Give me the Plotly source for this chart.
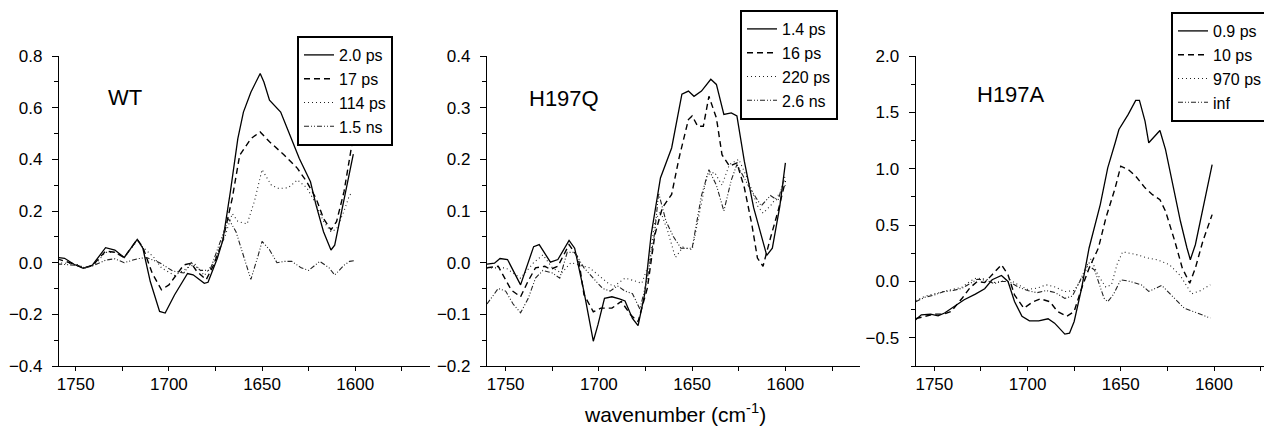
import plotly.graph_objects as go

# ---- WT ----
wt_x_20ps = [1760, 1756, 1751, 1746, 1741, 1734, 1729, 1724, 1717, 1714, 1710, 1705, 1702, 1697, 1690, 1687, 1681, 1679, 1674, 1671, 1667, 1663, 1660, 1656, 1651, 1649, 1646, 1640, 1635, 1630, 1624, 1621, 1617, 1613, 1611, 1607, 1604, 1601]
wt_y_20ps = [0.02, 0.017, -0.006, -0.022, -0.009, 0.058, 0.049, 0.02, 0.09, 0.056, -0.073, -0.189, -0.195, -0.125, -0.042, -0.047, -0.08, -0.076, 0.017, 0.088, 0.275, 0.48, 0.583, 0.66, 0.732, 0.699, 0.629, 0.583, 0.493, 0.403, 0.313, 0.223, 0.12, 0.049, 0.068, 0.21, 0.313, 0.42]
wt_x_17ps = [1760, 1751, 1746, 1741, 1734, 1729, 1724, 1717, 1714, 1709, 1704, 1700, 1692, 1688, 1685, 1680, 1676, 1671, 1666, 1662, 1656, 1651, 1646, 1638, 1631, 1626, 1621, 1617, 1613, 1610, 1606, 1601]
wt_y_17ps = [0.015, -0.005, -0.02, -0.012, 0.045, 0.04, 0.02, 0.09, 0.06, -0.04, -0.105, -0.086, -0.009, -0.002, -0.034, -0.066, -0.009, 0.088, 0.249, 0.416, 0.48, 0.506, 0.468, 0.416, 0.365, 0.313, 0.249, 0.171, 0.127, 0.159, 0.275, 0.49]
wt_x_114ps = [1760, 1750, 1745, 1740, 1734, 1729, 1724, 1717, 1714, 1708, 1704, 1697, 1690, 1686, 1681, 1676, 1670, 1666, 1663, 1658, 1654, 1650, 1645, 1641, 1636, 1631, 1626, 1622, 1617, 1613, 1610, 1606, 1603, 1601]
wt_y_114ps = [0.0, -0.005, -0.02, -0.01, 0.04, 0.04, 0.02, 0.085, 0.06, 0.02, -0.02, -0.05, -0.02, -0.005, -0.05, 0.0, 0.1, 0.19, 0.16, 0.15, 0.24, 0.36, 0.3, 0.287, 0.29, 0.32, 0.29, 0.24, 0.16, 0.12, 0.13, 0.2, 0.262, 0.27]
wt_x_15ns = [1760, 1750, 1745, 1740, 1734, 1729, 1724, 1717, 1712, 1705, 1698, 1692, 1688, 1683, 1678, 1673, 1668, 1664, 1660, 1656, 1652, 1650, 1646, 1642, 1638, 1634, 1629, 1625, 1619, 1614, 1611, 1606, 1603, 1600]
wt_y_15ns = [-0.005, -0.01, -0.02, -0.01, 0.01, 0.015, 0.0, 0.015, 0.02, 0.0, -0.032, -0.04, 0.0, -0.03, -0.03, 0.07, 0.17, 0.12, 0.03, -0.065, 0.03, 0.082, 0.05, 0.0, 0.005, 0.005, -0.02, -0.03, 0.005, -0.02, -0.048, -0.01, 0.005, 0.008]

# ---- H197Q ----
q_x_14ps = [1760, 1756, 1753, 1749, 1742, 1735, 1732, 1726, 1722, 1716, 1713, 1708, 1703, 1700.5, 1697, 1693, 1689, 1686, 1682, 1679, 1675.5, 1672, 1667, 1661, 1655.5, 1652, 1649, 1645, 1640, 1637, 1633, 1629, 1626, 1622, 1617, 1610, 1607, 1603, 1600]
q_y_14ps = [-0.003, -0.001, 0.008, 0.006, -0.043, 0.031, 0.035, 0.001, 0.006, 0.043, 0.028, -0.056, -0.152, -0.12, -0.069, -0.066, -0.07, -0.074, -0.108, -0.122, -0.062, 0.054, 0.164, 0.222, 0.326, 0.332, 0.322, 0.332, 0.355, 0.345, 0.287, 0.29, 0.284, 0.196, 0.106, 0.014, 0.028, 0.109, 0.193]
q_x_16ps = [1760, 1754, 1747, 1742, 1738, 1734, 1729, 1726, 1722, 1716, 1711, 1708, 1703, 1699, 1693, 1688, 1683, 1679, 1674, 1670, 1666, 1661, 1657, 1652, 1650, 1647, 1644, 1641, 1637, 1634, 1630, 1626, 1622, 1618, 1615, 1612, 1608, 1604, 1600]
q_y_16ps = [-0.01, -0.007, -0.053, -0.066, -0.036, -0.01, -0.007, -0.013, -0.007, 0.035, 0.009, -0.062, -0.095, -0.088, -0.088, -0.075, -0.101, -0.114, -0.049, 0.054, 0.106, 0.132, 0.203, 0.277, 0.284, 0.264, 0.264, 0.322, 0.28, 0.209, 0.187, 0.193, 0.145, 0.074, 0.009, -0.007, 0.048, 0.099, 0.158]
q_x_220ps = [1760, 1750, 1742, 1735, 1730, 1725, 1720, 1715, 1710, 1705, 1700, 1695, 1692, 1686, 1681, 1677, 1673, 1670, 1667, 1663, 1659, 1655, 1650, 1646, 1642, 1638, 1634, 1630, 1625, 1620, 1615, 1612, 1608, 1604, 1600]
q_y_220ps = [-0.01, -0.01, -0.03, 0.0, 0.015, -0.01, -0.02, 0.0, -0.005, -0.01, -0.025, -0.04, -0.046, -0.03, -0.035, -0.04, 0.0, 0.08, 0.1, 0.06, 0.01, 0.03, 0.025, 0.1, 0.17, 0.175, 0.15, 0.19, 0.2, 0.16, 0.11, 0.096, 0.11, 0.13, 0.15]
q_x_26ns = [1760, 1754, 1750, 1746, 1742, 1738, 1734, 1730, 1725, 1721, 1717, 1713, 1708, 1703, 1698, 1694, 1690, 1686, 1682, 1678, 1674, 1670, 1668, 1664, 1660, 1656, 1650, 1645, 1641, 1637, 1633, 1629, 1626, 1620, 1613, 1608, 1604, 1600]
q_y_26ns = [-0.08, -0.05, -0.055, -0.08, -0.097, -0.07, -0.03, -0.015, -0.02, -0.03, 0.02, 0.02, -0.01, -0.03, -0.05, -0.055, -0.045, -0.055, -0.06, -0.09, -0.03, 0.06, 0.135, 0.08, 0.05, 0.028, 0.028, 0.13, 0.18, 0.15, 0.1, 0.16, 0.19, 0.15, 0.11, 0.13, 0.12, 0.17]

# ---- H197A ----
a_x_09ps = [1760, 1757, 1752, 1748, 1744.5, 1739, 1734, 1728, 1723, 1719, 1714, 1710.5, 1707, 1703, 1699, 1694, 1689, 1685.5, 1680, 1677.5, 1675, 1671, 1667, 1661, 1657, 1653, 1651, 1646, 1642, 1640, 1637, 1635, 1629, 1626, 1622, 1618, 1614.5, 1612.7, 1610, 1605, 1601]
a_y_09ps = [-0.34, -0.296, -0.29, -0.305, -0.28, -0.222, -0.162, -0.112, -0.065, 0.015, 0.053, 0.0, -0.178, -0.31, -0.35, -0.35, -0.331, -0.37, -0.467, -0.459, -0.355, -0.059, 0.297, 0.682, 1.008, 1.23, 1.348, 1.482, 1.606, 1.606, 1.422, 1.23, 1.339, 1.17, 0.86, 0.534, 0.297, 0.193, 0.326, 0.711, 1.037]
a_x_10ps = [1760, 1750, 1745, 1741, 1735, 1731, 1727, 1723, 1719, 1714, 1710.5, 1707, 1702, 1697, 1693, 1688, 1684, 1679, 1675, 1671, 1667, 1662, 1658, 1653, 1650, 1646, 1642, 1637, 1633, 1629, 1626, 1621, 1617, 1613, 1610, 1606, 1601]
a_y_10ps = [-0.33, -0.29, -0.29, -0.266, -0.147, -0.058, 0.0, -0.01, 0.06, 0.148, 0.06, -0.12, -0.237, -0.18, -0.154, -0.18, -0.266, -0.31, -0.266, -0.06, 0.118, 0.297, 0.563, 0.83, 1.023, 0.993, 0.934, 0.83, 0.77, 0.726, 0.623, 0.356, 0.118, -0.015, 0.118, 0.356, 0.593]
a_x_970ps = [1760, 1755, 1750, 1745, 1740, 1735, 1731, 1727.5, 1722, 1718, 1714, 1710, 1705, 1700, 1695, 1690, 1685, 1680, 1675, 1670, 1666, 1662, 1658, 1655, 1652, 1649, 1642, 1636, 1630, 1624, 1618, 1612, 1607, 1602]
a_y_970ps = [-0.17, -0.13, -0.11, -0.09, -0.07, -0.05, 0.0, 0.03, 0.02, -0.01, 0.0, 0.02, -0.03, -0.07, -0.06, -0.03, -0.05, -0.09, -0.08, 0.05, 0.2, 0.05, -0.05, -0.03, 0.15, 0.263, 0.24, 0.21, 0.19, 0.15, 0.05, -0.11, -0.08, -0.03]
a_x_inf = [1760, 1755, 1750, 1745, 1740, 1735, 1730, 1727, 1722, 1718, 1714, 1710, 1705, 1700, 1695, 1690, 1685, 1680, 1676, 1672, 1668, 1664, 1661, 1659, 1657, 1654, 1650, 1645, 1639, 1635, 1628, 1621, 1616, 1609, 1602]
a_y_inf = [-0.18, -0.14, -0.12, -0.09, -0.08, -0.06, -0.01, 0.02, 0.01, -0.02, 0.0, 0.0, -0.05, -0.08, -0.1, -0.08, -0.1, -0.15, -0.13, 0.0, 0.15, 0.1, -0.05, -0.148, -0.18, -0.117, 0.015, 0.0, -0.03, -0.088, -0.035, -0.148, -0.237, -0.28, -0.325]

names_wt = ["2.0 ps", "17 ps", "114 ps", "1.5 ns"]
names_q = ["1.4 ps", "16 ps", "220 ps", "2.6 ns"]
names_a = ["0.9 ps", "10 ps", "970 ps", "inf"]
panel_labels = ["WT", "H197Q", "H197A"]

W, H = 1272, 426
FONT = "Liberation Sans, Arial, sans-serif"

styles = [
    dict(color="black", width=1.3, dash="solid"),
    dict(color="black", width=1.4, dash="6px,4px"),
    dict(color="#222", width=1.1, dash="1px,3px"),
    dict(color="#222", width=1.1, dash="5px,2px,1px,2px,1px,2px"),
]

panels = [
    ([(wt_x_20ps, wt_y_20ps), (wt_x_17ps, wt_y_17ps), (wt_x_114ps, wt_y_114ps), (wt_x_15ns, wt_y_15ns)], names_wt),
    ([(q_x_14ps, q_y_14ps), (q_x_16ps, q_y_16ps), (q_x_220ps, q_y_220ps), (q_x_26ns, q_y_26ns)], names_q),
    ([(a_x_09ps, a_y_09ps), (a_x_10ps, a_y_10ps), (a_x_970ps, a_y_970ps), (a_x_inf, a_y_inf)], names_a),
]

fig = go.Figure()
for p, (series, names) in enumerate(panels):
    sfx = "" if p == 0 else str(p + 1)
    for (xs, ys), name, st in zip(series, names, styles):
        fig.add_trace(go.Scatter(x=xs, y=ys, mode="lines", name=name, line=st,
                                 xaxis="x" + sfx, yaxis="y" + sfx,
                                 legend="legend" + sfx))

# pixel geometry of the three panels
x_dom = [(51, 421.7), (479, 852), (907.7, 1272)]
x_rng = [(1759, 1560), (1760, 1560), (1760, 1564.6)]
y_rng = [(-0.4, 0.8), (-0.2, 0.4), (-0.75, 2.0)]
y_dt = [(0.2, 0.1), (0.1, 0.05), (0.5, 0.25)]
top, bottom = 48, 358

axis_common = dict(showline=True, linecolor="black", linewidth=1.3, showgrid=False,
                   zeroline=False, ticks="outside", tickwidth=1.2,
                   tickcolor="black", tickfont=dict(family=FONT, size=17, color="black"))

layout = dict(width=W, height=H, margin=dict(l=0, r=0, t=0, b=0, autoexpand=False),
              plot_bgcolor="white", paper_bgcolor="white", showlegend=True,
              font=dict(family=FONT, color="black"))

for p in range(3):
    sfx = "" if p == 0 else str(p + 1)
    layout["xaxis" + sfx] = dict(axis_common, domain=[x_dom[p][0] / W, x_dom[p][1] / W],
                                 range=list(x_rng[p]), dtick=50, tick0=0,
                                 anchor="y" + sfx, ticklen=4, ticklabelstandoff=-2,
                                 minor=dict(dtick=25, ticks="outside", ticklen=4,
                                            tickcolor="black", tickwidth=1.2))
    layout["yaxis" + sfx] = dict(axis_common, domain=[1 - bottom / H, 1 - top / H],
                                 range=list(y_rng[p]), dtick=y_dt[p][0], tick0=0,
                                 tickformat=".1f", anchor="x" + sfx,
                                 ticklen=6, ticklabelstandoff=6,
                                 minor=dict(dtick=y_dt[p][1], ticks="outside", ticklen=4,
                                            tickcolor="black", tickwidth=1.2))

# legend boxes (top-left corners, px); plotly draws them ~8 px in from the given point
leg_pos = [(289, 28), (732, 2), (1163, 4)]
for p in range(3):
    sfx = "" if p == 0 else str(p + 1)
    layout["legend" + sfx] = dict(x=leg_pos[p][0] / W, y=1 - leg_pos[p][1] / H,
                                  xanchor="left", yanchor="top",
                                  bgcolor="white", bordercolor="black", borderwidth=2,
                                  font=dict(family=FONT, size=16, color="black"),
                                  tracegroupgap=0, itemwidth=30)

fig.update_layout(**layout)

label_pos = [(117.5, 90), (556, 91), (1002.5, 86)]
for (lx, ly), txt in zip(label_pos, panel_labels):
    fig.add_annotation(x=lx / W, y=1 - ly / H, xref="paper", yref="paper",
                       text=txt, showarrow=False, xanchor="center", yanchor="middle",
                       font=dict(family=FONT, size=22, color="black"))

fig.add_annotation(x=667 / W, y=1 - 405 / H, xref="paper", yref="paper",
                   text="wavenumber (cm<sup>-1</sup>)", showarrow=False,
                   xanchor="center", yanchor="middle",
                   font=dict(family=FONT, size=21, color="black"))

fig.write_html("out.html")
